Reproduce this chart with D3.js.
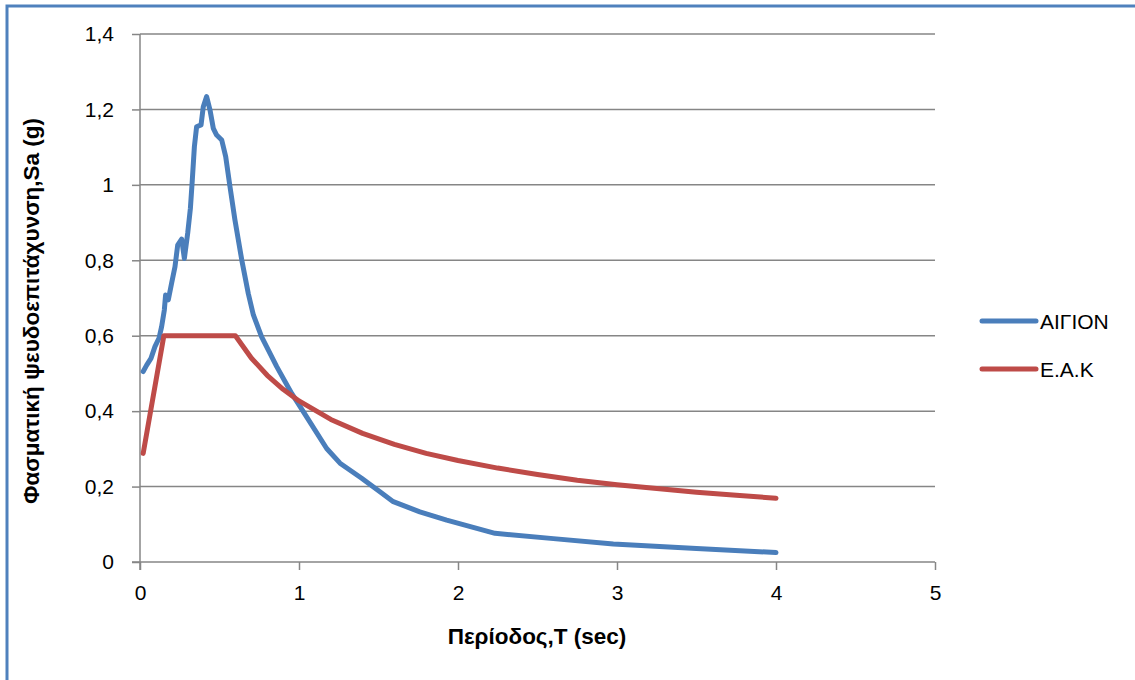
<!DOCTYPE html>
<html>
<head>
<meta charset="utf-8">
<script src="https://cdn.jsdelivr.net/npm/d3@7"></script>
<style>
  html, body { margin: 0; padding: 0; background: #ffffff; }
  svg { display: block; }
</style>
</head>
<body>
<svg id="chart" width="1135" height="680"></svg>
<script>
// ---- data ----
const aigionT  = [0.02,0.042,0.069,0.094,0.12,0.136,0.153,0.161,0.178,0.199,0.22,0.237,0.262,0.279,0.3,0.317,0.329,0.342,0.356,0.384,0.398,0.419,0.44,0.461,0.482,0.514,0.539,0.566,0.597,0.64,0.681,0.713,0.765,0.86,0.954,1.048,1.174,1.258,1.394,1.509,1.593,1.76,1.929,2.233,2.6,2.977,3.5,4.0];
const aigionSa = [0.505,0.522,0.54,0.571,0.594,0.624,0.668,0.708,0.695,0.74,0.783,0.84,0.856,0.805,0.872,0.938,1.013,1.101,1.154,1.159,1.207,1.234,1.199,1.15,1.132,1.119,1.075,0.995,0.907,0.801,0.712,0.655,0.597,0.518,0.447,0.385,0.301,0.262,0.222,0.186,0.16,0.133,0.111,0.076,0.062,0.048,0.036,0.025];
const eakT  = [0.02,0.15,0.6,0.7,0.8,0.9,1.0,1.2,1.4,1.6,1.8,2.0,2.25,2.5,2.75,3.0,3.25,3.5,3.75,4.0];
const eakSa = [0.288,0.6,0.6,0.541,0.495,0.458,0.427,0.378,0.341,0.312,0.288,0.269,0.249,0.232,0.217,0.205,0.195,0.185,0.177,0.169];
const seriesNames = ["ΑΙΓΙΟΝ", "Ε.Α.Κ"];
const xTicks = [0,1,2,3,4,5];
const yTicks = [0,0.2,0.4,0.6,0.8,1,1.2,1.4];
const xTitle = "Περίοδος,Τ (sec)";
const yTitle = "Φασματική ψευδοεπιτάχυνση,Sa (g)";

// ---- layout ----
const svg = d3.select("#chart");
const colors = ["#4a7ebb", "#be4b48"];
const gridColor = "#868686";
const font = "'Liberation Sans', Arial, sans-serif";

const x = d3.scaleLinear().domain([0,5]).range([140,935]);
const y = d3.scaleLinear().domain([0,1.4]).range([562,34]);

// frame
svg.append("rect").attr("x",7).attr("y",6).attr("width",1200).attr("height",800)
  .attr("fill","none").attr("stroke","#4f81bd").attr("stroke-width",3);

// gridlines
svg.append("g").selectAll("line").data(yTicks.filter(d=>d>0)).join("line")
  .attr("x1",x(0)).attr("x2",x(5))
  .attr("y1",d=>y(d)).attr("y2",d=>y(d))
  .attr("stroke",gridColor).attr("stroke-width",1.5);

// axes
const fmt = d => String(d).replace(".", ",");
const yAxis = d3.axisLeft(y).tickValues(yTicks).tickSize(8).tickPadding(18).tickFormat(fmt);
const xAxis = d3.axisBottom(x).tickValues(xTicks).tickSize(8).tickPadding(15).tickFormat(fmt);

const gy = svg.append("g").attr("transform",`translate(${x(0)},0)`).call(yAxis);
const gx = svg.append("g").attr("transform",`translate(0,${y(0)})`).call(xAxis);
[gx, gy].forEach(g => {
  g.select(".domain").attr("stroke",gridColor).attr("stroke-width",1.5);
  g.selectAll(".tick line").attr("stroke",gridColor).attr("stroke-width",1.5);
  g.selectAll(".tick text").attr("fill","#000").attr("font-family",font).attr("font-size",21);
});
gy.select(".domain").attr("d",`M0,${y(0)+8}V${y(1.4)}`);
gx.select(".domain").attr("d",`M${x(0)-8},0H${x(5)}`);

// lines
const line = d3.line().x(d=>x(d[0])).y(d=>y(d[1]));
const series = [
  d3.zip(aigionT, aigionSa),
  d3.zip(eakT, eakSa)
];
series.forEach((s,i) => {
  svg.append("path").datum(s).attr("d",line)
    .attr("fill","none").attr("stroke",colors[i]).attr("stroke-width",5)
    .attr("stroke-linejoin","round").attr("stroke-linecap","round");
});

// legend
const legY = [321, 369];
seriesNames.forEach((n,i) => {
  svg.append("line").attr("x1",982).attr("x2",1036).attr("y1",legY[i]).attr("y2",legY[i])
    .attr("stroke",colors[i]).attr("stroke-width",5).attr("stroke-linecap","round");
  svg.append("text").attr("x",1040).attr("y",legY[i]).attr("dy","0.36em")
    .attr("font-family",font).attr("font-size",21).attr("fill","#000").text(n);
});

// titles
svg.append("text").attr("x",537).attr("y",636).attr("dy","0.35em")
  .attr("text-anchor","middle").attr("font-family",font).attr("font-weight","bold")
  .attr("font-size",22.5).attr("fill","#000").text(xTitle);
svg.append("text").attr("transform","translate(31,311) rotate(-90)").attr("dy","0.35em")
  .attr("text-anchor","middle").attr("font-family",font).attr("font-weight","bold")
  .attr("font-size",22.5).attr("fill","#000").text(yTitle);
</script>
</body>
</html>
